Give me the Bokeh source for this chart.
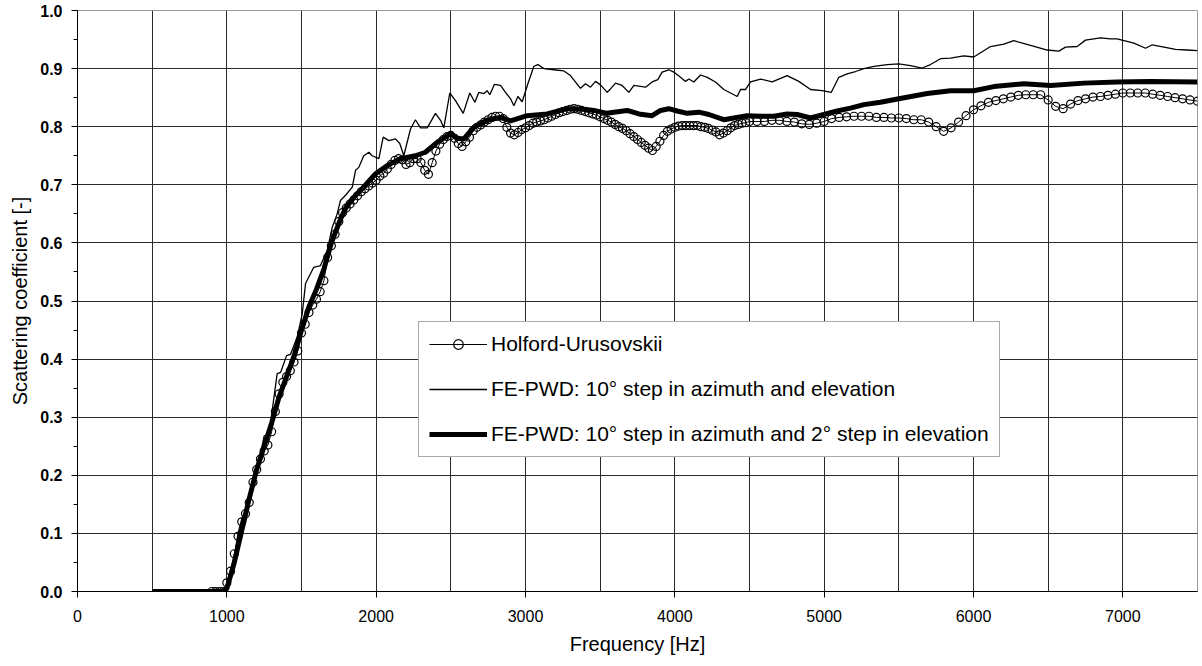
from bokeh.plotting import figure
from bokeh.models import (SingleIntervalTicker, Legend, LegendItem, CustomJSTickFormatter)
from bokeh.embed import file_html
from bokeh.resources import INLINE

# ---------------- data ----------------
# Holford-Urusovskii (25 Hz steps to 4500 Hz, then 50 Hz steps)
hu_f = list(range(900, 4501, 25)) + list(range(4550, 7501, 50))
hu_s = [
    0.0, 0.0, 0.0, 0.0,                                   # 900-975
    0.015, 0.035, 0.065, 0.095, 0.12, 0.134, 0.153, 0.188,  # 1000-1175
    0.21, 0.228, 0.242, 0.252, 0.275, 0.31, 0.34, 0.36,     # 1200-1375
    0.37, 0.38, 0.395, 0.414, 0.445, 0.46, 0.48, 0.493,     # 1400-1575
    0.503, 0.516, 0.535, 0.575, 0.595, 0.615, 0.637, 0.652, # 1600-1775
    0.66, 0.667, 0.674, 0.681, 0.688, 0.693, 0.698, 0.703,  # 1800-1975
    0.708, 0.715, 0.72, 0.727, 0.735, 0.742, 0.745, 0.743,  # 2000-2175
    0.735, 0.738, 0.745, 0.745, 0.738, 0.725, 0.718, 0.738, # 2200-2375
    0.758, 0.77, 0.778, 0.783, 0.785, 0.78, 0.771, 0.766,   # 2400-2575
    0.774, 0.782, 0.793, 0.799, 0.803, 0.808, 0.812, 0.816, # 2600-2775
    0.818, 0.818, 0.814, 0.799, 0.789, 0.786, 0.79, 0.795,  # 2800-2975
    0.798, 0.802, 0.806, 0.808, 0.81, 0.812, 0.815, 0.818,  # 3000-3175
    0.821, 0.824, 0.826, 0.828, 0.83, 0.831, 0.83, 0.828,   # 3200-3375
    0.826, 0.824, 0.822, 0.82, 0.817, 0.814, 0.811, 0.808,  # 3400-3575
    0.804, 0.8, 0.797, 0.793, 0.788, 0.783, 0.778, 0.773,   # 3600-3775
    0.768, 0.763, 0.759, 0.766, 0.775, 0.785, 0.792, 0.796, # 3800-3975
    0.799, 0.801, 0.802, 0.802, 0.802, 0.802, 0.802, 0.8,   # 4000-4175
    0.799, 0.797, 0.794, 0.791, 0.786, 0.789, 0.793, 0.798, # 4200-4375
    0.802, 0.804, 0.806, 0.807, 0.809,                      # 4400-4500
    0.809, 0.809, 0.811, 0.811, 0.809, 0.808, 0.805, 0.804, # 4550-4900
    0.806, 0.809, 0.814, 0.816, 0.817, 0.818, 0.818, 0.818, # 4950-5300
    0.816, 0.816, 0.815, 0.815, 0.814, 0.812, 0.812, 0.808, # 5350-5700
    0.8, 0.792, 0.798, 0.808, 0.819, 0.829, 0.836, 0.842,   # 5750-6100
    0.845, 0.848, 0.851, 0.854, 0.855, 0.855, 0.855, 0.846, # 6150-6500
    0.835, 0.831, 0.839, 0.845, 0.848, 0.851, 0.852, 0.854, # 6550-6900
    0.856, 0.858, 0.858, 0.858, 0.858, 0.856, 0.854, 0.852, # 6950-7300
    0.85, 0.848, 0.846, 0.844,                              # 7350-7500
]

# FE-PWD: 10 deg step in azimuth and elevation (thin line)
fe10_f = [500, 1000, 1025, 1050, 1075, 1100, 1125, 1150, 1175, 1200, 1225, 1250, 1275,
          1292, 1337, 1360, 1400, 1426, 1471, 1505, 1527, 1582, 1627, 1672, 1706, 1739,
          1761, 1795, 1840, 1862, 1884, 1917, 1951, 1973, 2018, 2047, 2085, 2130, 2158,
          2185, 2230, 2263, 2297, 2342, 2397, 2431, 2453, 2493, 2531, 2583, 2627, 2661,
          2687, 2721, 2743, 2761, 2792, 2833, 2866, 2900, 2922, 2949, 2978, 3016, 3056,
          3083, 3123, 3190, 3257, 3301, 3368, 3402, 3435, 3469, 3502, 3547, 3569, 3603,
          3647, 3692, 3726, 3804, 3848, 3886, 3915, 3960, 3993, 4038, 4071, 4094, 4127,
          4172, 4217, 4272, 4328, 4373, 4418, 4440, 4473, 4507, 4574, 4652, 4752, 4830,
          4909, 4987, 5047, 5098, 5154, 5210, 5266, 5333, 5422, 5500, 5578, 5656, 5712,
          5779, 5846, 5935, 6002, 6114, 6203, 6270, 6382, 6494, 6572, 6616, 6694, 6750,
          6850, 6917, 6962, 7074, 7152, 7197, 7275, 7353, 7431, 7500]
fe10_s = [0.0, 0.0, 0.03, 0.06, 0.1, 0.125, 0.14, 0.16, 0.19, 0.215, 0.235, 0.268, 0.27,
          0.289, 0.375, 0.377, 0.406, 0.408, 0.438, 0.478, 0.53, 0.558, 0.561, 0.587, 0.627, 0.65,
          0.673, 0.682, 0.696, 0.725, 0.73, 0.75, 0.756, 0.75, 0.745, 0.782, 0.776, 0.779, 0.771,
          0.75, 0.796, 0.812, 0.798, 0.798, 0.823, 0.811, 0.798, 0.858, 0.845, 0.823, 0.858, 0.842,
          0.859, 0.857, 0.862, 0.855, 0.873, 0.871, 0.859, 0.848, 0.836, 0.852, 0.843, 0.874, 0.904,
          0.907, 0.9, 0.898, 0.896, 0.888, 0.866, 0.874, 0.868, 0.878, 0.872, 0.859, 0.865, 0.875,
          0.871, 0.859, 0.871, 0.868, 0.877, 0.881, 0.894, 0.898, 0.894, 0.885, 0.878, 0.882, 0.877,
          0.889, 0.885, 0.877, 0.864, 0.858, 0.852, 0.864, 0.864, 0.877, 0.882, 0.877, 0.888, 0.878,
          0.864, 0.862, 0.859, 0.885, 0.891, 0.895, 0.9, 0.904, 0.907, 0.908, 0.905, 0.901, 0.907,
          0.917, 0.918, 0.922, 0.92, 0.938, 0.942, 0.948, 0.94, 0.932, 0.93, 0.937, 0.938, 0.949,
          0.953, 0.951, 0.951, 0.944, 0.935, 0.941, 0.937, 0.933, 0.932, 0.931]

# FE-PWD: 10 deg step in azimuth and 2 deg step in elevation (thick line)
fe2_f = [500, 975, 1000, 1050, 1100, 1150, 1200, 1250, 1300, 1350, 1400, 1450, 1500, 1550,
         1600, 1650, 1700, 1761, 1800, 1850, 1895, 1950, 1996, 2074, 2163, 2263, 2330, 2408,
         2498, 2543, 2587, 2654, 2743, 2833, 2900, 3011, 3145, 3279, 3391, 3458, 3547, 3592,
         3681, 3759, 3848, 3904, 3960, 4016, 4083, 4161, 4228, 4328, 4395, 4485, 4574, 4663,
         4752, 4819, 4909, 4998, 5087, 5176, 5266, 5377, 5500, 5690, 5846, 6002, 6136, 6337,
         6516, 6739, 6962, 7186, 7500]
fe2_s = [0.0, 0.0, 0.005, 0.05, 0.105, 0.16, 0.21, 0.25, 0.29, 0.335, 0.37, 0.405, 0.45, 0.49,
         0.52, 0.555, 0.6, 0.641, 0.662, 0.678, 0.69, 0.706, 0.719, 0.733, 0.745, 0.75, 0.756, 0.773,
         0.788, 0.78, 0.779, 0.799, 0.811, 0.816, 0.81, 0.819, 0.822, 0.831, 0.83, 0.828, 0.823, 0.825,
         0.828, 0.822, 0.819, 0.828, 0.831, 0.827, 0.823, 0.825, 0.821, 0.812, 0.815, 0.819, 0.818, 0.818,
         0.822, 0.821, 0.815, 0.821, 0.827, 0.832, 0.838, 0.842, 0.848, 0.857, 0.862, 0.862, 0.869, 0.874,
         0.871, 0.875, 0.877, 0.878, 0.877]

labels = ["Holford-Urusovskii",
          "FE-PWD: 10° step in azimuth and elevation",
          "FE-PWD: 10° step in azimuth and 2° step in elevation"]

FONT = "Liberation Sans"

# ---------------- figure ----------------
p = figure(frame_width=1120, frame_height=581,
           x_range=(0, 7500), y_range=(0, 1.0),
           output_backend="svg", toolbar_location=None,
           min_border_left=77, min_border_top=10, min_border_right=5, min_border_bottom=75)
p.background_fill_color = "white"
p.border_fill_color = "white"
p.outline_line_color = "#9a9a9a"
p.outline_line_width = 1

# axes
p.xaxis.ticker = SingleIntervalTicker(interval=1000, num_minor_ticks=2)
p.yaxis.ticker = SingleIntervalTicker(interval=0.1, num_minor_ticks=2)
p.xgrid.ticker = SingleIntervalTicker(interval=500)
for g in (p.xgrid, p.ygrid):
    g.grid_line_color = "#2a2a2a"
    g.grid_line_width = 1

for ax in (p.xaxis, p.yaxis):
    ax.axis_line_color = "black"
    ax.axis_line_width = 1
    ax.major_tick_line_color = "black"
    ax.minor_tick_line_color = "black"
    ax.major_tick_in = 0
    ax.minor_tick_in = 0
    ax.major_label_text_font = FONT
    ax.axis_label_text_font = FONT
    ax.axis_label_text_font_style = "normal"
    ax.axis_label_text_color = "black"
    ax.major_label_text_color = "black"
    ax.axis_label_text_font_size = "20px"

p.xaxis.major_tick_out = 6
p.xaxis.minor_tick_out = 0
p.xaxis.major_label_text_font_size = "16px"
p.xaxis.major_label_standoff = 12
p.xaxis.axis_label = "Frequency [Hz]"
p.xaxis.axis_label_standoff = 8

p.yaxis.major_tick_out = 6
p.yaxis.minor_tick_out = 4
p.yaxis.major_label_text_font_size = "16px"
p.yaxis.major_label_text_font_style = "bold"
p.yaxis.formatter = CustomJSTickFormatter(code="return tick.toFixed(1);")
p.yaxis.major_label_standoff = 9
p.yaxis.axis_label = "Scattering coefficient [-]"
p.yaxis.axis_label_standoff = 6

# ---------------- series ----------------
r_fe10 = p.line(fe10_f, fe10_s, line_color="black", line_width=1.3)
r_fe2 = p.line(fe2_f, fe2_s, line_color="black", line_width=5, line_join="round")
r_hu_line = p.line(hu_f, hu_s, line_color="black", line_width=1)
r_hu_pts = p.scatter(hu_f, hu_s, marker="circle", size=8, fill_color=None,
                     line_color="black", line_width=1.2)

legend = Legend(items=[
    LegendItem(label=labels[0], renderers=[r_hu_line, r_hu_pts]),
    LegendItem(label=labels[1], renderers=[r_fe10]),
    LegendItem(label=labels[2], renderers=[r_fe2]),
], location=(341, 134))
legend.label_text_font = FONT
legend.label_text_font_size = "21px"
legend.label_text_color = "black"
legend.glyph_width = 58
legend.glyph_height = 24
legend.label_height = 24
legend.label_standoff = 4
legend.spacing = 21
legend.padding = 10
legend.margin = 0
legend.border_line_color = "#555555"
legend.border_line_width = 1
legend.background_fill_color = "white"
legend.background_fill_alpha = 1.0
p.add_layout(legend, "center")

open("out.html", "w").write(file_html(p, INLINE))
